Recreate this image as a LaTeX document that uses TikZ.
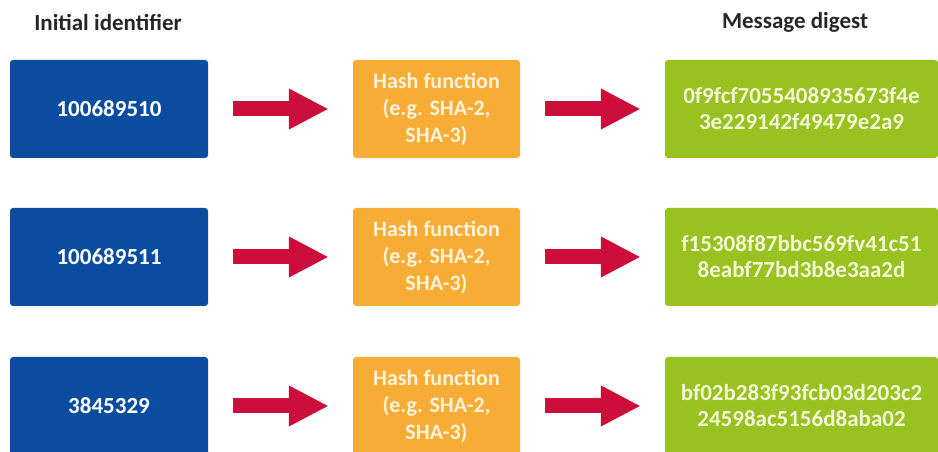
\documentclass[tikz,border=0pt]{standalone}
\usepackage{fontspec}
\setmainfont{Carlito}
\usetikzlibrary{arrows.meta}
\definecolor{IdBlue}{HTML}{0A4C9F}
\definecolor{HashOrange}{HTML}{F7AC36}
\definecolor{DigestGreen}{HTML}{97C21F}
\definecolor{ArrowRed}{HTML}{CC0F3A}
\definecolor{TitleGrey}{HTML}{262626}
\definecolor{DigestText}{HTML}{F3F7D6}
\definecolor{HashText}{HTML}{FFF3DC}

\begin{document}
\begin{tikzpicture}[
    x=1pt, y=1pt,
    every node/.style={font=\bfseries\fontsize{23}{26}\selectfont},
    idbox/.style={fill=IdBlue, text=white, rounded corners=3pt,
        minimum width=198pt, minimum height=98pt, align=center},
    hashbox/.style={fill=HashOrange, text=HashText, rounded corners=3pt,
        minimum width=167pt, minimum height=98pt, align=center,
        font=\bfseries\fontsize{22}{27}\selectfont},
    digbox/.style={fill=DigestGreen, text=DigestText, rounded corners=3pt,
        minimum width=273pt, minimum height=98pt, align=center},
    bigarr/.style={ArrowRed, line width=15pt,
        -{Triangle[length=40pt, width=38pt]},
        shorten <=25pt, shorten >=24pt},
]
\useasboundingbox (0,0) rectangle (938,452);

% === Column titles ===
\node[TitleGrey] (tid) at (108, 429) {Initial identifier};
\node[TitleGrey] (tdig) at (795, 430) {Message digest};

% =============================================
% ROW 1
% =============================================
\node[idbox] (id1) at (109, 343) {100689510};
\node[hashbox] (hash1) at (436.5, 343) {Hash function\\(e.g. SHA-2,\\SHA-3)};
\node[digbox] (dig1) at (801.5, 343) {0f9fcf7055408935673f4e\\3e229142f49479e2a9};

\draw[bigarr] (id1.east) -- (hash1.west);
\draw[bigarr] (hash1.east) -- (dig1.west);

% =============================================
% ROW 2
% =============================================
\node[idbox] (id2) at (109, 195) {100689511};
\node[hashbox] (hash2) at (436.5, 195) {Hash function\\(e.g. SHA-2,\\SHA-3)};
\node[digbox] (dig2) at (801.5, 195) {f15308f87bbc569fv41c51\\8eabf77bd3b8e3aa2d};

\draw[bigarr] (id2.east) -- (hash2.west);
\draw[bigarr] (hash2.east) -- (dig2.west);

% =============================================
% ROW 3
% =============================================
\node[idbox] (id3) at (109, 46) {3845329};
\node[hashbox] (hash3) at (436.5, 46) {Hash function\\(e.g. SHA-2,\\SHA-3)};
\node[digbox] (dig3) at (801.5, 46) {bf02b283f93fcb03d203c2\\24598ac5156d8aba02};

\draw[bigarr] (id3.east) -- (hash3.west);
\draw[bigarr] (hash3.east) -- (dig3.west);

\end{tikzpicture}
\end{document}
